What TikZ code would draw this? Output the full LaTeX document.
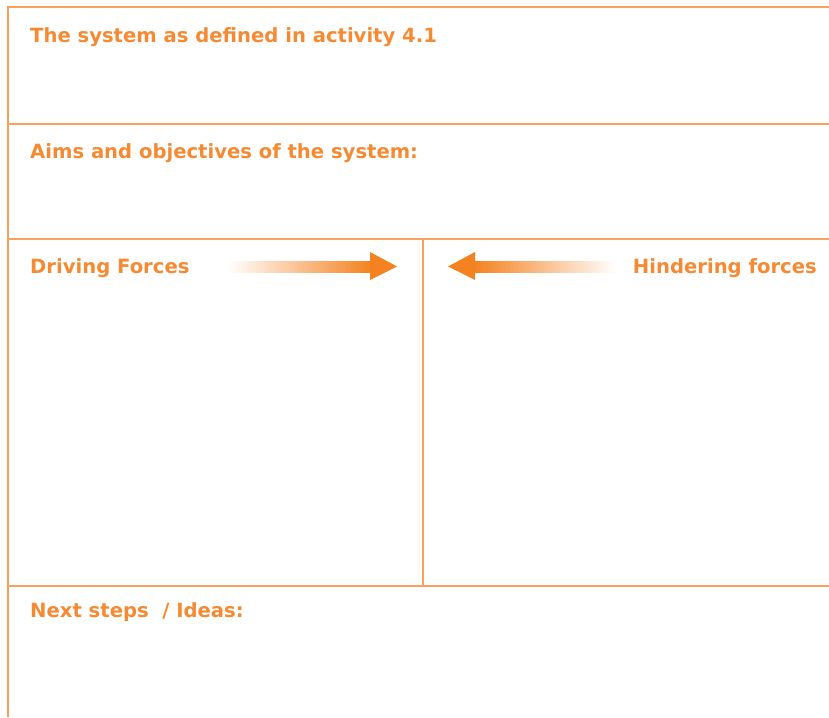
\documentclass[tikz,border=0pt]{standalone}
\usepackage{fontspec}
\setmainfont{DejaVu Sans}
\definecolor{txtor}{HTML}{F58A33}
\definecolor{lineor}{HTML}{F7A060}
\definecolor{arrowor}{HTML}{F58220}
\begin{document}
\begin{tikzpicture}[x=1pt,y=-1pt,
  frame/.style={draw=lineor,line width=1.2pt},
  lbl/.style={text=txtor,font=\bfseries\fontsize{19.6}{23}\selectfont,inner sep=0pt},
  shaftr/.style={left color=white,right color=arrowor},
  shaftl/.style={left color=arrowor,right color=white}]
\useasboundingbox (0,0) rectangle (829,717);
% frame
\coordinate (tl) at (8,7);
\coordinate (tr) at (829,7);
\coordinate (bl) at (8,717);
\draw[frame] (tr) -- (tl) -- (bl);
\coordinate (h1l) at (8,124); \coordinate (h1r) at (829,124);
\coordinate (h2l) at (8,239); \coordinate (h2r) at (829,239);
\coordinate (h3l) at (8,586); \coordinate (h3r) at (829,586);
\coordinate (vt) at (423,239); \coordinate (vb) at (423,586);
\draw[frame] (h1l) -- (h1r);
\draw[frame] (h2l) -- (h2r);
\draw[frame] (h3l) -- (h3r);
\draw[frame] (vt) -- (vb);
% labels
\node[lbl,anchor=base west] (t1) at (30,43) {The system as defined in activity 4.1};
\node[lbl,anchor=base west] (t2) at (30,158) {Aims and objectives of the system:};
\node[lbl,anchor=base west] (t3) at (30,273) {Driving Forces};
\node[lbl,anchor=base east] (t4) at (817,273) {Hindering forces};
\node[lbl,anchor=base west] (t5) at (30,617) {Next steps\ \ / Ideas:};
% right arrow
\shade[shaftr] (228,261) rectangle (371,272);
\fill[arrowor] (370,252) -- (397,266.5) -- (370,280) -- cycle;
% left arrow
\shade[shaftl] (474,261) rectangle (616,272);
\fill[arrowor] (475,252) -- (448,266.5) -- (475,280) -- cycle;
\end{tikzpicture}
\end{document}
